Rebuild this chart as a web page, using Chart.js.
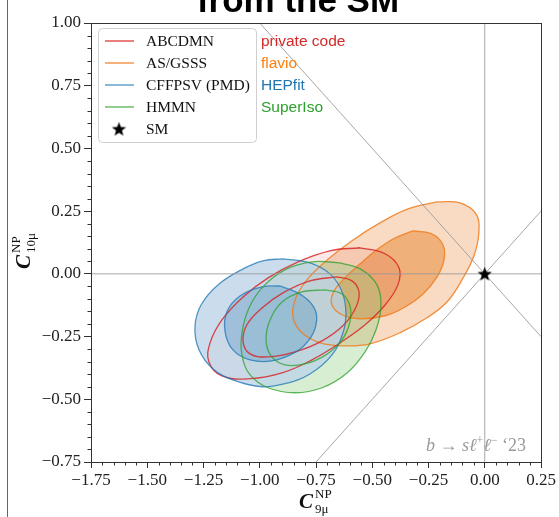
<!DOCTYPE html>
<html>
<head>
<meta charset="utf-8">
<script src="https://cdn.jsdelivr.net/npm/chart.js@4.4.1/dist/chart.umd.min.js"></script>
<style>
  html, body { margin: 0; padding: 0; background: #fff; }
  #wrap { position: relative; width: 559px; height: 517px; overflow: hidden; }
  #edge { position: absolute; left: 7px; top: 0; width: 1px; height: 517px; background: #666; }
</style>
</head>
<body>
<div id="wrap"><canvas id="c"></canvas><div id="edge"></div></div>
<script>
// Contornos (1σ / 2σ), em unidades de C9 / C10.
const orangeOuter = [[-0.212,0.287],[-0.110,0.283],[-0.039,0.239],[-0.026,0.167],[-0.048,0.072],[-0.101,-0.024],[-0.168,-0.112],[-0.257,-0.175],[-0.377,-0.235],[-0.510,-0.279],[-0.621,-0.287],[-0.732,-0.275],[-0.812,-0.235],[-0.852,-0.175],[-0.843,-0.104],[-0.794,-0.028],[-0.710,0.048],[-0.590,0.132],[-0.466,0.203],[-0.341,0.259]];
const orangeInner = [[-0.319,0.171],[-0.234,0.159],[-0.186,0.116],[-0.181,0.056],[-0.212,-0.012],[-0.274,-0.080],[-0.354,-0.132],[-0.443,-0.167],[-0.554,-0.179],[-0.634,-0.163],[-0.679,-0.124],[-0.674,-0.076],[-0.630,-0.024],[-0.554,0.040],[-0.474,0.100],[-0.399,0.143]];
const redOuter = [[-0.554,0.104],[-0.443,0.080],[-0.381,0.024],[-0.386,-0.044],[-0.443,-0.124],[-0.532,-0.203],[-0.643,-0.275],[-0.768,-0.343],[-0.901,-0.395],[-1.043,-0.418],[-1.168,-0.407],[-1.226,-0.351],[-1.221,-0.275],[-1.168,-0.183],[-1.074,-0.092],[-0.963,-0.016],[-0.830,0.048],[-0.688,0.092]];
const redInner = [[-0.657,-0.012],[-0.590,-0.028],[-0.559,-0.072],[-0.572,-0.132],[-0.626,-0.203],[-0.723,-0.267],[-0.843,-0.311],[-0.963,-0.331],[-1.043,-0.319],[-1.074,-0.271],[-1.057,-0.203],[-0.990,-0.136],[-0.897,-0.076],[-0.777,-0.028]];
const greenOuter = [[-0.643,0.044],[-0.546,0.016],[-0.479,-0.044],[-0.461,-0.124],[-0.483,-0.223],[-0.532,-0.311],[-0.612,-0.395],[-0.723,-0.454],[-0.843,-0.474],[-0.963,-0.454],[-1.043,-0.403],[-1.079,-0.323],[-1.079,-0.235],[-1.048,-0.136],[-0.986,-0.052],[-0.888,0.016],[-0.768,0.048]];
const greenInner = [[-0.710,-0.064],[-0.634,-0.080],[-0.599,-0.128],[-0.599,-0.191],[-0.634,-0.263],[-0.706,-0.323],[-0.799,-0.359],[-0.888,-0.363],[-0.950,-0.327],[-0.972,-0.263],[-0.954,-0.183],[-0.901,-0.112],[-0.812,-0.072]];
const blueOuter = [[-0.897,0.060],[-0.777,0.044],[-0.688,0.000],[-0.634,-0.072],[-0.617,-0.155],[-0.630,-0.235],[-0.679,-0.323],[-0.777,-0.399],[-0.888,-0.438],[-0.990,-0.450],[-1.110,-0.426],[-1.208,-0.379],[-1.270,-0.303],[-1.288,-0.211],[-1.261,-0.124],[-1.186,-0.044],[-1.074,0.020],[-0.986,0.052]];
const blueInner = [[-0.910,-0.048],[-0.808,-0.088],[-0.754,-0.143],[-0.750,-0.203],[-0.781,-0.263],[-0.839,-0.311],[-0.946,-0.347],[-1.043,-0.343],[-1.119,-0.303],[-1.154,-0.231],[-1.146,-0.151],[-1.088,-0.088],[-0.990,-0.052]];

// Linhas de referência e ponto SM.
const lineYeqX = [[-1.75,-1.75],[0.25,0.25]];
const lineYeqMinusX = [[-1.75,1.75],[0.25,-0.25]];
const lineC10zero = [[-1.75,0],[0.25,0]];
const lineC9zero = [[0,-0.75],[0,1.0]];
const smPoint = [[0,0]];

const groupNames = ['ABCDMN', 'AS/GSSS', 'CFFPSV (PMD)', 'HMMN'];
const codeNames = ['private code', 'flavio', 'HEPfit', 'SuperIso'];
const xRange = [-1.75, 0.25];
const yRange = [-0.75, 1.00];
const majorStep = 0.25;
const minorStep = 0.05;

const cor = {
  red: 'rgba(214,39,40,0.85)', orange: 'rgba(240,125,30,0.85)',
  blue: 'rgba(31,119,180,0.75)', green: 'rgba(44,160,44,0.75)',
};
const corTexto = ['#d62728', '#ff7f0e', '#1f77b4', '#2ca02c'];
const corLinha = [cor.red, cor.orange, cor.blue, cor.green];

const pts = (arr) => arr.map(([x, y]) => ({ x, y }));
const fechado = (arr) => { const d = pts(arr); d.push(d[0]); return d; };

// Só a linha do contorno (fica por cima de todos os preenchimentos).
function contorno(label, arr, borda) {
  return {
    label, data: fechado(arr), showLine: true, borderColor: borda, borderWidth: 1.3,
    fill: false, pointRadius: 0, tension: 0.4, order: 2,
  };
}

// Só o preenchimento.
function mancha(label, arr, fundo, ordem) {
  return {
    label: '__fill ' + label, data: fechado(arr), showLine: true, borderWidth: 0,
    borderColor: 'transparent', backgroundColor: fundo, fill: 'shape',
    pointRadius: 0, tension: 0.4, order: ordem,
  };
}

function linhaRef(arr) {
  return { label: '__ref', data: pts(arr), showLine: true, borderColor: 'rgba(150,150,150,0.85)',
    borderWidth: 1, pointRadius: 0, fill: false, order: 1 };
}

function estrela(r) {
  const c = document.createElement('canvas');
  const s = Math.ceil(r * 2 + 2);
  c.width = c.height = s;
  const g = c.getContext('2d');
  g.beginPath();
  for (let i = 0; i < 10; i++) {
    const a = -Math.PI / 2 + i * Math.PI / 5;
    const rr = i % 2 ? r * 0.42 : r;
    g.lineTo(s / 2 + rr * Math.cos(a), s / 2 + rr * Math.sin(a) + r * 0.08);
  }
  g.closePath();
  g.fillStyle = '#000';
  g.fill();
  return c;
}
const star = estrela(7.5);

const fmt = (v) => (v < -1e-9 ? '\u2212' : '') + Math.abs(v).toFixed(2);

function runs(ctx, x, y, partes) {
  for (const [t, f, dy] of partes) {
    ctx.font = f;
    ctx.fillText(t, x, y + (dy || 0));
    x += ctx.measureText(t).width;
  }
  return x;
}

const extras = {
  id: 'extras',
  afterDraw(chart) {
    const { ctx, chartArea: a, scales } = chart;
    const sx = scales.x, sy = scales.y;
    ctx.save();
    // moldura
    ctx.strokeStyle = '#333';
    ctx.lineWidth = 1;
    ctx.strokeRect(Math.round(a.left) + 0.5, Math.round(a.top) + 0.5, Math.round(a.right - a.left), Math.round(a.bottom - a.top));
    // ticks menores
    ctx.beginPath();
    for (let v = xRange[0]; v <= xRange[1] + 1e-9; v += minorStep) {
      if (Math.abs(v / majorStep - Math.round(v / majorStep)) < 1e-6) continue;
      const p = Math.round(sx.getPixelForValue(v)) + 0.5;
      ctx.moveTo(p, a.bottom); ctx.lineTo(p, a.bottom + 3.5);
    }
    for (let v = yRange[0]; v <= yRange[1] + 1e-9; v += minorStep) {
      if (Math.abs(v / majorStep - Math.round(v / majorStep)) < 1e-6) continue;
      const p = Math.round(sy.getPixelForValue(v)) + 0.5;
      ctx.moveTo(a.left, p); ctx.lineTo(a.left - 3.5, p);
    }
    ctx.stroke();

    // legenda
    const lx = 98.5, ly = 28.5, lw = 158, lh = 114;
    ctx.beginPath();
    ctx.roundRect(lx, ly, lw, lh, 4);
    ctx.fillStyle = 'rgba(255,255,255,0.85)';
    ctx.fill();
    ctx.strokeStyle = '#cfcfcf';
    ctx.stroke();
    ctx.textBaseline = 'middle';
    const rows = [41, 63, 85, 107, 129];
    groupNames.forEach((n, i) => {
      ctx.strokeStyle = corLinha[i];
      ctx.lineWidth = 1.4;
      ctx.beginPath(); ctx.moveTo(105, rows[i]); ctx.lineTo(134, rows[i]); ctx.stroke();
      ctx.fillStyle = '#111';
      ctx.font = '15.5px "Liberation Serif"';
      ctx.fillText(n, 146, rows[i] + 1);
      ctx.fillStyle = corTexto[i];
      ctx.font = '15.5px "Liberation Sans"';
      ctx.fillText(codeNames[i], 261, rows[i] + 1);
    });
    ctx.drawImage(star, 119 - star.width / 2, rows[4] - star.height / 2);
    ctx.fillStyle = '#111';
    ctx.font = '15.5px "Liberation Serif"';
    ctx.fillText('SM', 146, rows[4] + 1);

    // anotação
    ctx.textBaseline = 'alphabetic';
    ctx.fillStyle = '#9a9a9a';
    const it = 'italic 18px "Liberation Serif"', rm = '18px "Liberation Serif"', sm = '12px "Liberation Serif"';
    runs(ctx, 426, 451, [['b', it], [' \u2192 ', rm], ['s\u2113', it], ['+', sm, -7], ['\u2113', it], ['\u2212', sm, -7], [' \u201823', rm]]);

    // títulos dos eixos
    ctx.fillStyle = '#111';
    const big = 'bold italic 21px "Liberation Serif"', small = '13px "Liberation Serif"';
    // eixo x
    ctx.font = big;
    const wC = ctx.measureText('C').width;
    let x0 = 316 - (wC + 20) / 2, base = 508;
    ctx.fillText('C', x0, base);
    ctx.font = small;
    ctx.fillText('NP', x0 + wC + 2, base - 10);
    ctx.fillText('9\u03bc', x0 + wC + 2, base + 5);
    // eixo y
    ctx.translate(30, 250);
    ctx.rotate(-Math.PI / 2);
    ctx.font = big;
    x0 = -(wC + 24) / 2;
    ctx.fillText('C', x0, 0);
    ctx.font = small;
    ctx.fillText('NP', x0 + wC + 2, -10);
    ctx.fillText('10\u03bc', x0 + wC + 2, 5);
    ctx.restore();

    // título cortado
    ctx.save();
    ctx.fillStyle = '#000';
    ctx.font = 'bold 35px "Liberation Sans"';
    ctx.textAlign = 'center';
    ctx.fillText('from the SM', 298, 12);
    ctx.restore();
  },
};

const datasets = [
  { label: 'SM', data: pts(smPoint), pointStyle: star, pointRadius: 7, order: 0 },
  linhaRef(lineYeqX), linhaRef(lineYeqMinusX), linhaRef(lineC10zero), linhaRef(lineC9zero),
  // linhas
  contorno('HMMN 1σ', greenInner, cor.green),
  contorno('HMMN 2σ', greenOuter, cor.green),
  contorno('CFFPSV 1σ', blueInner, cor.blue),
  contorno('CFFPSV 2σ', blueOuter, cor.blue),
  contorno('ABCDMN 1σ', redInner, cor.red),
  contorno('ABCDMN 2σ', redOuter, cor.red),
  contorno('AS/GSSS 1σ', orangeInner, cor.orange),
  contorno('AS/GSSS 2σ', orangeOuter, cor.orange),
  // preenchimentos (ordem maior = desenhado primeiro)
  mancha('CFFPSV 1σ', blueInner, 'rgba(31,119,180,0.25)', 3),
  mancha('CFFPSV 2σ', blueOuter, 'rgba(188,211,232,0.78)', 4),
  mancha('HMMN 1σ', greenInner, 'rgba(44,160,44,0.05)', 5),
  mancha('HMMN 2σ', greenOuter, 'rgba(140,205,128,0.35)', 6),
  mancha('ABCDMN 2σ', redOuter, 'rgba(214,39,40,0.1)', 7),
  mancha('AS/GSSS 1σ', orangeInner, 'rgba(230,125,35,0.45)', 8),
  mancha('AS/GSSS 2σ', orangeOuter, 'rgba(230,125,35,0.28)', 9),
];

const tickFont = { family: 'Liberation Serif', size: 17 };

new Chart(document.getElementById('c'), {
  type: 'scatter',
  data: { datasets },
  options: {
    responsive: true,
    maintainAspectRatio: false,
    animation: false,
    layout: { padding: { top: 23, right: 18, left: 0, bottom: 0 } },
    plugins: { legend: { display: false }, tooltip: { enabled: false } },
    scales: {
      x: {
        type: 'linear', min: xRange[0], max: xRange[1],
        afterFit: (s) => { s.height = 55; },
        grid: { drawOnChartArea: false, drawTicks: true, tickLength: 6, color: '#333' },
        border: { display: true, color: '#333' },
        ticks: { stepSize: majorStep, color: '#222', font: tickFont, padding: 2, maxRotation: 0, callback: fmt },
      },
      y: {
        type: 'linear', min: yRange[0], max: yRange[1],
        afterFit: (s) => { s.width = 91; },
        grid: { drawOnChartArea: false, drawTicks: true, tickLength: 7, color: '#333' },
        border: { display: true, color: '#333' },
        ticks: { stepSize: majorStep, color: '#222', font: tickFont, padding: 3, callback: fmt },
      },
    },
  },
  plugins: [extras],
});
</script>
</body>
</html>
